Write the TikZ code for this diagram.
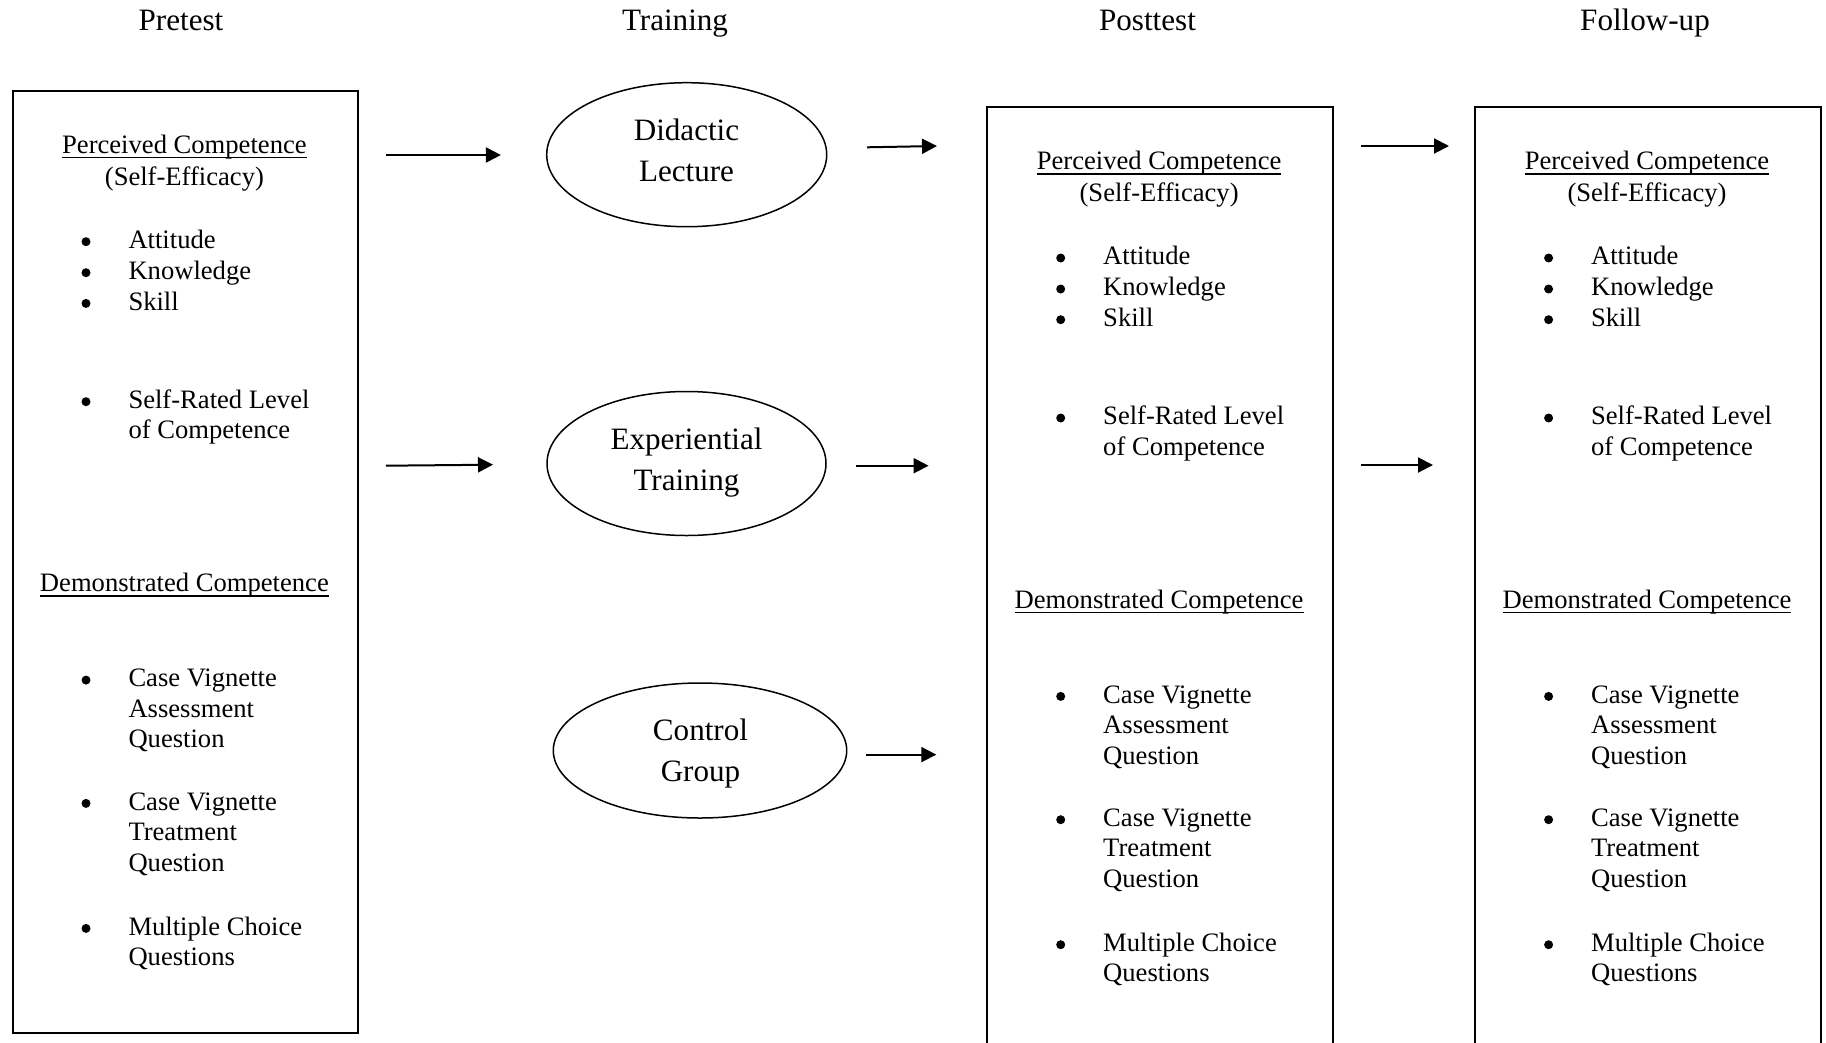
\documentclass[tikz,border=0pt]{standalone}
\usepackage{fontspec}
\setmainfont{Liberation Serif}
\usetikzlibrary{shapes.geometric,arrows.meta}
\newsavebox\ulbox
\newcommand\ulin[1]{\sbox\ulbox{#1}\rlap{\rule[-5pt]{\wd\ulbox}{1.4pt}}\usebox\ulbox}
\newcommand\vstack[2]{\vtop{\baselineskip=#1\relax\lineskiplimit=-100pt\relax\halign{##\hfil\cr#2\crcr}}}
\newcommand\cstack[2]{\vtop{\baselineskip=#1\relax\lineskiplimit=-100pt\relax\halign{\hfil##\hfil\cr#2\crcr}}}
\tikzset{
  txt/.style={inner sep=0pt, font=\fontsize{26.6}{30.5}\selectfont},
  item/.style={txt, anchor=base west},
  dot/.style={circle, fill=black, draw=none, minimum size=9pt, inner sep=0pt},
  head/.style={inner sep=0pt, anchor=base, font=\fontsize{31.1}{36}\selectfont},
  measurebox/.style={draw, line width=2pt, anchor=north west, minimum width=345.3pt, minimum height=941.7pt, inner sep=0pt},
  oval/.style={draw, ellipse, line width=1.5pt, inner sep=0pt},
  ovaltext/.style={inner sep=0pt, anchor=base, font=\fontsize{31.1}{41.7}\selectfont},
  arr/.style={line width=2pt, -{Triangle[length=15pt,width=15pt]}},
}
% bulleted item: prefix-name, baseline y, text lines
\newcommand\bulletitem[3]{%
  \node[dot] (#1b) at (86,#2-6.6) {};
  \node[item] (#1) at (128.3,#2) {\vstack{30.5pt}{#3}};}
\newcommand\measurecol[3]{%
\begin{scope}[shift={(#2,#3)}]
  \node[measurebox] (#1box) at (11.7,90) {};
  \node[txt, anchor=base] (#1pc) at (184.4,153.3) {\ulin{Perceived Competence}};
  \node[txt, anchor=base] (#1se) at (184.4,185) {(Self-Efficacy)};
  \bulletitem{#1att}{248.3}{Attitude}
  \bulletitem{#1kno}{279.3}{Knowledge}
  \bulletitem{#1ski}{310}{Skill}
  \bulletitem{#1srl}{408.3}{Self-Rated Level\cr of Competence}
  \node[txt, anchor=base] (#1dc) at (184.4,591.7) {\ulin{Demonstrated Competence}};
  \bulletitem{#1cva}{686.7}{Case Vignette\cr Assessment\cr Question}
  \bulletitem{#1cvt}{810}{Case Vignette\cr Treatment\cr Question}
  \bulletitem{#1mcq}{935}{Multiple Choice\cr Questions}
\end{scope}}
\begin{document}
\begin{tikzpicture}[x=1pt, y=-1pt]
  \useasboundingbox (0,0) rectangle (1826,1042);
  \fill[white] (0,0) rectangle (1826,1042);
  \clip (0,0) rectangle (1826,1042);

  % headings
  \node[head] (hpre) at (181,30) {Pretest};
  \node[head] (htra) at (675,30) {Training};
  \node[head] (hpost) at (1147.5,30) {Posttest};
  \node[head] (hfol) at (1645,30) {Follow-up};

  % measurement columns
  \measurecol{pre}{0}{0}
  \measurecol{post}{974.7}{16.3}
  \measurecol{fol}{1462.6}{16.3}

  % training ovals
  \node[oval, minimum width=280pt, minimum height=144pt] (did) at (686.7,154.7) {};
  \node[ovaltext] (didt) at (686.5,140) {\cstack{41.7pt}{Didactic\cr Lecture}};
  \node[oval, minimum width=279pt, minimum height=144pt] (exp) at (686.5,463.5) {};
  \node[ovaltext] (expt) at (686.5,449) {\cstack{41.7pt}{Experiential\cr Training}};
  \node[oval, minimum width=293.4pt, minimum height=135pt] (con) at (700,750.5) {};
  \node[ovaltext] (cont) at (700.5,740) {\cstack{41.7pt}{Control\cr Group}};

  % arrow end points
  \coordinate (a1s) at (385.8,155);   \coordinate (a1e) at (500.9,155);
  \coordinate (a2s) at (385.8,465.7); \coordinate (a2e) at (493,464.7);
  \coordinate (a3s) at (867,147.3);   \coordinate (a3e) at (937,146);
  \coordinate (a4s) at (856,465.7);   \coordinate (a4e) at (928.6,465.7);
  \coordinate (a5s) at (866.4,754.6); \coordinate (a5e) at (936.3,754.6);
  \coordinate (a6s) at (1361,146);    \coordinate (a6e) at (1449,146);
  \coordinate (a7s) at (1361,465);    \coordinate (a7e) at (1433,465);

  \draw[arr] (a1s) -- (a1e);
  \draw[arr] (a2s) -- (a2e);
  \draw[arr] (a3s) -- (a3e);
  \draw[arr] (a4s) -- (a4e);
  \draw[arr] (a5s) -- (a5e);
  \draw[arr] (a6s) -- (a6e);
  \draw[arr] (a7s) -- (a7e);
\end{tikzpicture}
\end{document}
